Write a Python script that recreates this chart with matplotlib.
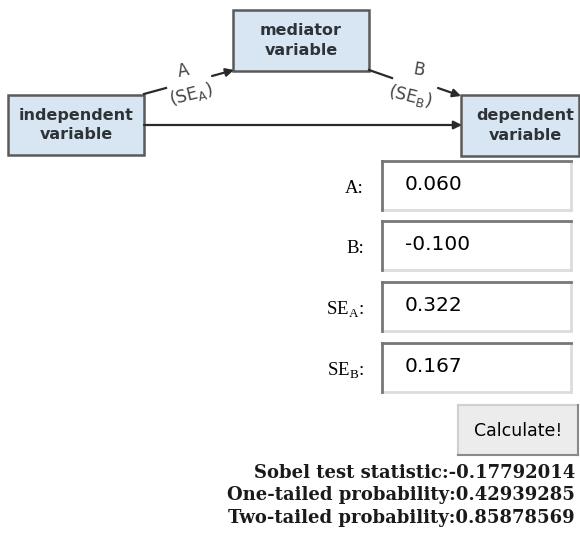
import matplotlib.pyplot as plt
from matplotlib.patches import Rectangle, FancyArrowPatch

plt.rcParams['mathtext.fontset'] = 'custom'
plt.rcParams['mathtext.rm'] = 'Liberation Serif'
plt.rcParams['mathtext.sf'] = 'DejaVu Sans'

# diagram nodes
node_names = ['independent\nvariable', 'mediator\nvariable', 'dependent\nvariable']
# input fields
input_labels = ['A:', 'B:', r'SE$_{\rm A}$:', r'SE$_{\rm B}$:']
input_values = ['0.060', '-0.100', '0.322', '0.167']
# results
result_labels = ['Sobel test statistic:', 'One-tailed probability:', 'Two-tailed probability:']
result_values = ['-0.17792014', '0.42939285', '0.85878569']

fig = plt.figure(figsize=(5.8, 5.4), dpi=100)
ax = fig.add_axes([0, 0, 1, 1])
ax.set_xlim(0, 580)
ax.set_ylim(540, 0)
ax.axis('off')

box_fill = '#d8e5f2'
box_edge = '#5a5a5a'
node_boxes = [(8, 95, 136, 60), (233, 10, 136, 61), (461, 95, 118, 61)]
for (x, y, w, h), name in zip(node_boxes, node_names):
    ax.add_patch(Rectangle((x, y), w, h, facecolor=box_fill, edgecolor=box_edge, lw=1.8))
    ax.text(x + w / 2 + (5 if x > 400 else 0), y + h / 2, name, ha='center', va='center',
            fontsize=11.5, fontweight='bold', color='#2e3338', linespacing=1.35,
            family='DejaVu Sans')

line_kw = dict(color='#2a2a2a', lw=1.6)
arrow_kw = dict(arrowstyle='-|>', mutation_scale=12, color='#2a2a2a', lw=1.6, shrinkA=0, shrinkB=0)

# path A
ax.plot([144, 166], [94, 88], **line_kw)
ax.add_patch(FancyArrowPatch((212, 76), (234, 70), **arrow_kw))
ax.text(183, 71, 'A', ha='center', va='center', fontsize=12, color='#444', rotation=12)
ax.text(191, 94, r'(SE$_{\sf A}$)', ha='center', va='center', fontsize=12.5, color='#444',
        rotation=14, family='DejaVu Sans')
# path B
ax.plot([369, 392], [70, 78], **line_kw)
ax.add_patch(FancyArrowPatch((438, 88), (461, 96), **arrow_kw))
ax.text(419, 70, 'B', ha='center', va='center', fontsize=12, color='#444', rotation=-10)
ax.text(410, 96, r'(SE$_{\sf B}$)', ha='center', va='center', fontsize=12.5, color='#444',
        rotation=-14, family='DejaVu Sans')
# direct path
ax.add_patch(FancyArrowPatch((144, 125), (462, 125), **arrow_kw))

# input fields
field_tops = [161, 221, 282, 343]
for top, lab, val in zip(field_tops, input_labels, input_values):
    x0, x1, y0, y1 = 382, 571, top, top + 49
    ax.add_patch(Rectangle((x0, y0), x1 - x0, y1 - y0, facecolor='white', edgecolor='none'))
    ax.plot([x0, x1], [y1, y1], color='#dcdcdc', lw=2)
    ax.plot([x1, x1], [y0, y1], color='#dcdcdc', lw=2)
    ax.plot([x0, x1], [y0, y0], color='#777777', lw=2)
    ax.plot([x0, x0], [y0, y1], color='#777777', lw=2)
    ax.text(405, (y0 + y1) / 2 - 1, val, ha='left', va='center', fontsize=14.5,
            color='black', family='DejaVu Sans')
    ax.text(364, (y0 + y1) / 2 + 3, lab, ha='right', va='center', fontsize=13.5,
            color='black', family='Liberation Serif')

# button
ax.add_patch(Rectangle((458, 405), 120, 50, facecolor='#ececec', edgecolor='none'))
ax.plot([458, 578], [405, 405], color='#d0d0d0', lw=1.5)
ax.plot([458, 458], [405, 455], color='#d0d0d0', lw=1.5)
ax.plot([458, 578], [455, 455], color='#8a8a8a', lw=1.5)
ax.plot([578, 578], [405, 455], color='#8a8a8a', lw=1.5)
ax.text(518, 431, 'Calculate!', ha='center', va='center', fontsize=12.5,
        color='black', family='DejaVu Sans')

# results
for i, (lab, val) in enumerate(zip(result_labels, result_values)):
    ax.text(575, 473 + i * 22.5, lab + val, ha='right', va='center', fontsize=13,
            fontweight='bold', color='#1a1a1a', family='DejaVu Serif')

fig.savefig('out.png', dpi=100)
